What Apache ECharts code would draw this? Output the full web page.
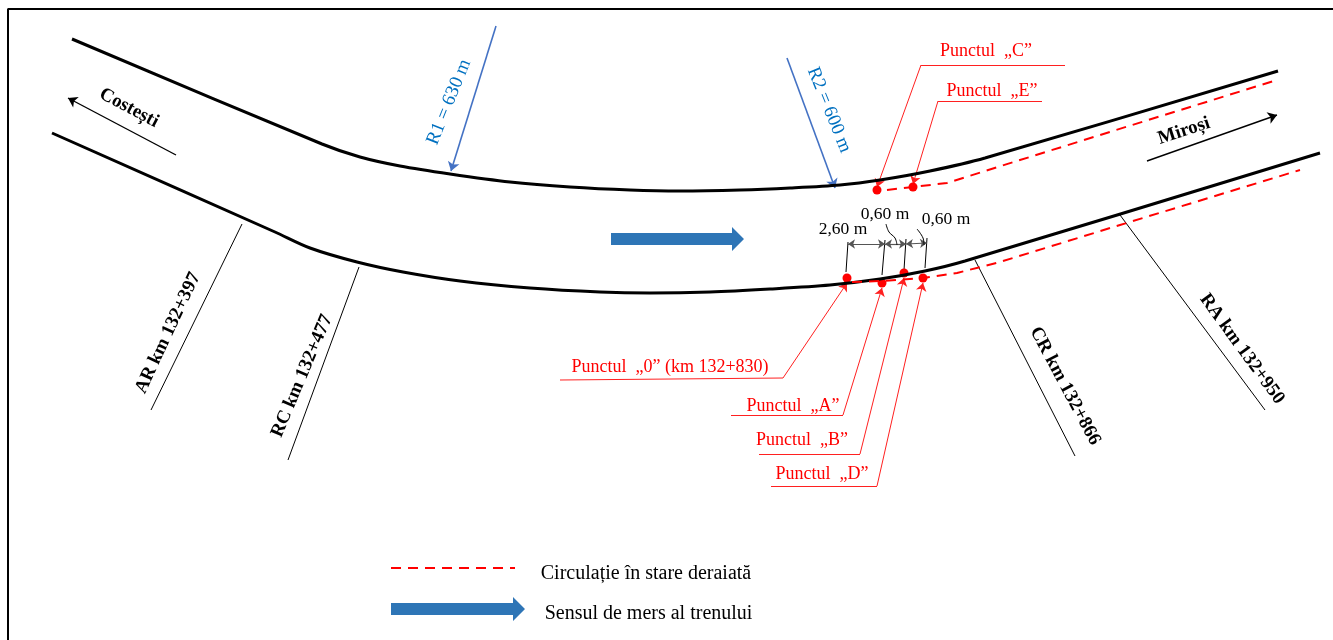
<!DOCTYPE html>
<html><head><meta charset="utf-8">
<script src="https://cdn.jsdelivr.net/npm/echarts@6/dist/echarts.min.js"></script>
<style>html,body{margin:0;padding:0;background:#fff;overflow:hidden}#c{width:1333px;height:640px}</style>
</head><body><div id="c"></div>
<script>
// Track geometry, in picture pixels [x, y]
const upperRail = [[72,39],[322,144],[360,157],[400,166],[450,174],[510,182],[570,187],[630,190],[680,191],[740,190],[790,188],[840,185],[880,180],[930,171],[985,158],[1278,71]];
const lowerRail = [[52,133],[275,232],[310,248],[357,262],[403,272],[460,281],[530,288],[600,292],[650,293],[710,292],[770,289],[830,285],[880,279],[925,271],[965,261],[1320,153]];
const upperDerail = [[887,190],[913,187],[947,183],[985,171],[1100,135],[1277,80]];
const lowerDerail = [[852,282],[882,281],[923,278],[957,273],[1000,262],[1120,225],[1300,170]];
const legendDash = [[391,568],[515,568]];
const frame = [[8,640],[8,9],[1333,9]];
const impactPoints = [[847,278],[882,283],[904,273],[923,278],[877,190],[913,187]];
// Plain leader segments
const redSegments = [[[1065,65],[921,65]],[[1042,101],[938,101]],[[560,380],[783,378]],[[731,415],[843,415]],[[759,454],[860,454]],[[771,486],[877,486]]];
const redArrows = [[[921,65],[877,187]],[[938,101],[913,184]],[[783,378],[847,283]],[[843,415],[882,288]],[[860,454],[904,278]],[[877,486],[923,283]]];
const blueArrows = [[[496,26],[451,171]],[[787,58],[835,188]]];
const directionArrows = [[[176,155],[68,98]],[[1147,161],[1277,115]]];
const thickArrows = [[[611,239],[738,239]],[[391,609],[519,609]]];
const stationLines = [[[242,224],[151,410]],[[359,267],[288,460]],[[975,260],[1075,456]],[[1120,215],[1265,410]]];
const dimTicks = [[[846,272],[848,242]],[[882,275],[885,240]],[[904,270],[906,239]],[[925,268],[927,238]]];
const dimSpans = [[[848,244],[885,244]],[[885,244],[906,244]],[[906,244],[927,243]]];
const dimCurveA = [[886,224],[889,232],[895,238],[897,245]];
const dimCurveB = [[917,229],[923,238],[924,245]];
// Text [x, y, text, angle]
const redTexts = [[986,51,'Punctul  „C”',0],[992,91,'Punctul  „E”',0],[670,367,'Punctul  „0” (km 132+830)',0],[793,406,'Punctul  „A”',0],[802,440,'Punctul  „B”',0],[822,474,'Punctul  „D”',0]];
const blueTexts = [[449,102,'R1 = 630 m',68],[829,110,'R2 = 600 m',-68]];
const dimTexts = [[843,229,'2,60 m',0],[885,214,'0,60 m',0],[946,219,'0,60 m',0]];
const stationTexts = [[168,333,'AR km 132+397',65],[302,376,'RC km 132+477',67],[1065,386,'CR km 132+866',-62],[1242,349,'RA km 132+950',-54]];
const placeTexts = [[129,108,'Costești',-28],[1184,131,'Miroși',18]];
const legendTexts = [[646,574,'Circulație în stare deraiată',0],[648.5,614,'Sensul de mers al trenului',0]];

const SERIF = '"Liberation Serif","Times New Roman",serif';
const HEAD = 'path://M0,0L0,0ZM12,6L24,18L0,18ZM24,24L24,24Z';
const DASH = {color:'#ff0000',width:2,type:[10,7]};
const pathSeries = (data, color, width, extra) => Object.assign({
  type:'line', data, symbol:'none', silent:true, animation:false,
  lineStyle:{color, width}
}, extra||{});
const segSeries = (segs, color, width, symbol, size) => ({
  type:'lines', coordinateSystem:'cartesian2d', silent:true, animation:false, polyline:false,
  symbol:symbol||'none', symbolSize:size||0,
  lineStyle:{color, width, opacity:1, curveness:0},
  data:segs.map(s=>({coords:s}))
});
const textSeries = (rows, color, size, weight) => ({
  type:'scatter', symbolSize:0, silent:true, animation:false, itemStyle:{opacity:1},
  data:rows.map(r=>({value:[r[0],r[1]],
    label:{show:true,position:'inside',formatter:r[2],rotate:r[3],color,opacity:1,fontFamily:SERIF,fontSize:size,fontWeight:weight,align:'center',verticalAlign:'middle'}}))
});

const chart = echarts.init(document.getElementById('c'),null,{renderer:'canvas'});
chart.setOption({
  animation:false,
  backgroundColor:'#fff',
  grid:{left:0,right:0,top:0,bottom:0},
  xAxis:{type:'value',min:0,max:1333,show:false},
  yAxis:{type:'value',min:0,max:640,inverse:true,show:false},
  series:[
    pathSeries(frame,'#000',2),
    pathSeries(upperRail,'#000',3,{smooth:0.3}),
    pathSeries(lowerRail,'#000',3,{smooth:0.3}),
    pathSeries(upperDerail,'#ff0000',2,{lineStyle:DASH}),
    pathSeries(lowerDerail,'#ff0000',2,{lineStyle:DASH}),
    pathSeries(legendDash,'#ff0000',2,{lineStyle:DASH}),
    segSeries(redSegments,'#ff2020',1),
    segSeries(redArrows,'#ff2020',1,['none','arrow'],8),
    segSeries(blueArrows,'#4472c4',1.6,['none','arrow'],9),
    segSeries(directionArrows,'#000',1.4,['none','arrow'],9),
    segSeries(thickArrows,'#2e75b6',12,['none',HEAD],24),
    segSeries(stationLines,'#000',1),
    segSeries(dimTicks,'#000',1),
    segSeries(dimSpans,'#555',1.2,['arrow','arrow'],7),
    pathSeries(dimCurveA,'#000',1,{smooth:0.4}),
    pathSeries(dimCurveB,'#000',1,{smooth:0.4}),
    {type:'scatter',data:impactPoints,symbol:'circle',symbolSize:9,itemStyle:{color:'#ff0000',opacity:1},silent:true,animation:false},
    textSeries(redTexts,'#ff0000',18,'normal'),
    textSeries(blueTexts,'#0070c0',19,'normal'),
    textSeries(dimTexts,'#000',17.5,'normal'),
    textSeries(stationTexts,'#000',19,'bold'),
    textSeries(placeTexts,'#000',19,'bold'),
    textSeries(legendTexts,'#000',20,'normal')
  ]
});
</script></body></html>
